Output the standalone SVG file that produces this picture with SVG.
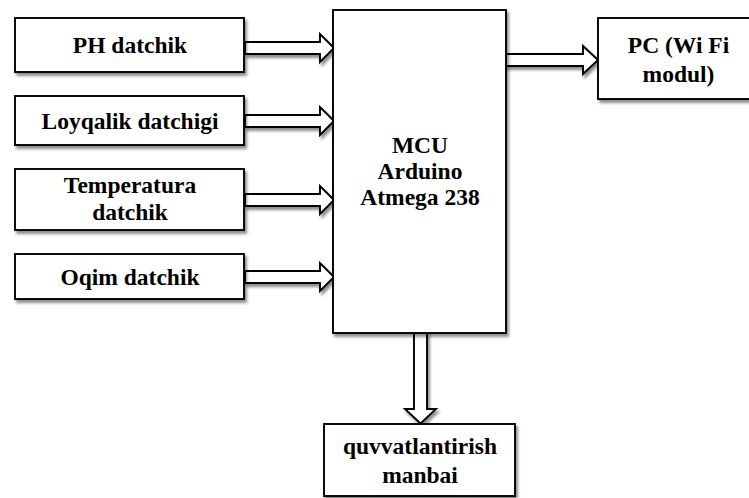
<svg xmlns="http://www.w3.org/2000/svg" width="749" height="498" viewBox="0 0 749 498">
  <defs>
    <filter id="sh" x="-10%" y="-10%" width="130%" height="130%">
      <feDropShadow dx="2" dy="3" stdDeviation="1.5" flood-color="#000" flood-opacity="0.45"/>
    </filter>
  </defs>
  <style>
    .box { fill: #fff; stroke: #000; stroke-width: 1.9; filter: url(#sh); }
    .arr { fill: #fff; stroke: #000; stroke-width: 1.9; stroke-linejoin: miter; filter: url(#sh); }
    text { font-family: 'Liberation Serif', 'Times New Roman', Times, serif; font-weight: bold; font-size: 23.5px; fill: #000; text-anchor: middle; }
  </style>
  <rect width="749" height="498" fill="#fff"/>

  <g id="connectors">
    <polygon class="arr" points="245,42 320,42 320,34 334,48 320,62 320,54 245,54"/>
    <polygon class="arr" points="245,115 320,115 320,107 334,121 320,135 320,127 245,127"/>
    <polygon class="arr" points="245,194 320,194 320,186 334,200 320,214 320,206 245,206"/>
    <polygon class="arr" points="245,271 320,271 320,263 334,277 320,291 320,283 245,283"/>
    <polygon class="arr" points="506,54 583,54 583,46 598,60 583,74 583,66 506,66"/>
    <polygon class="arr" points="414,333 414,409 405,409 420.5,423.5 436,409 427,409 427,333"/>
  </g>

  <g id="ph">
    <rect class="box" x="15" y="18" width="229" height="54"/>
    <text x="130" y="53">PH datchik</text>
  </g>
  <g id="loyqalik">
    <rect class="box" x="15" y="96" width="229" height="49"/>
    <text x="130" y="128.5">Loyqalik datchigi</text>
  </g>
  <g id="temperatura">
    <rect class="box" x="15" y="169" width="229" height="61"/>
    <text x="130" y="192.5">Temperatura</text>
    <text x="130" y="220">datchik</text>
  </g>
  <g id="oqim">
    <rect class="box" x="15" y="254" width="229" height="45"/>
    <text x="130" y="285">Oqim datchik</text>
  </g>
  <g id="mcu">
    <rect class="box" x="333" y="10" width="173" height="323"/>
    <text x="420" y="153">MCU</text>
    <text x="420" y="179">Arduino</text>
    <text x="420" y="205">Atmega 238</text>
  </g>
  <g id="pc">
    <rect class="box" x="598" y="18" width="161" height="81"/>
    <text x="678.5" y="53">PC (Wi Fi</text>
    <text x="678.5" y="82">modul)</text>
  </g>
  <g id="power">
    <rect class="box" x="324" y="424" width="191" height="72"/>
    <text x="420" y="454">quvvatlantirish</text>
    <text x="420" y="483">manbai</text>
  </g>
</svg>
